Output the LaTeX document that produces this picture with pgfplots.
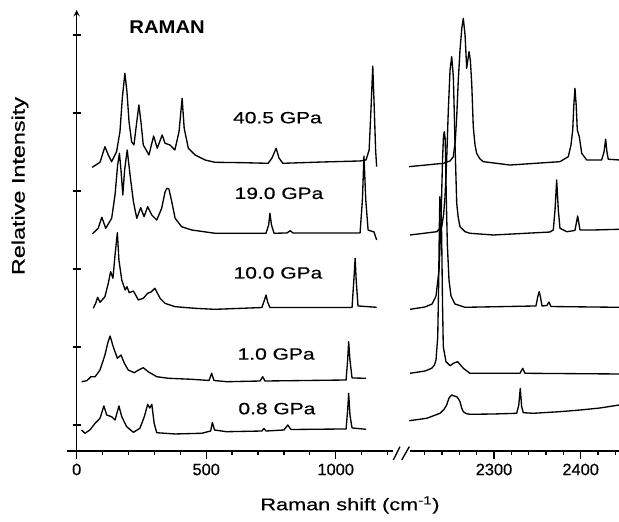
\documentclass[border=0pt]{standalone}
\usepackage{fontspec}
\setmainfont{Liberation Sans}
\newfontfamily\widefont[FakeStretch=1.29, FakeBold=0.5]{Liberation Sans}
\newfontfamily\ramanfont[FakeStretch=1.1]{Liberation Sans}
\newfontfamily\tickfont[FakeBold=0.4]{Liberation Sans}
\usepackage{pgfplots}
\pgfplotsset{compat=1.18}

\pgfplotsset{
  spec/.style={black, line width=1pt, line join=round, no markers},
  panel/.style={
    scale only axis, height=330.75pt,
    ymin=-0.3333, ymax=5.3205,
    axis x line=bottom, axis line style={-, line width=1.1pt},
    tick align=outside, major tick length=6pt, minor tick length=3pt,
    tick style={black, line width=1pt},
    xticklabel style={font=\tickfont\fontsize{12.3}{14}\selectfont},
    /pgf/number format/assume math mode=true,
    /pgf/number format/set thousands separator={},
    clip=false, anchor=south west,
  },
}
\tikzset{plabel/.style={font=\widefont\fontsize{12.2}{14}\selectfont}}

\begin{document}
\begin{tikzpicture}
\useasboundingbox (0,0) rectangle (464.25pt,391.5pt);

% low-frequency panel
\begin{axis}[panel, at={(57.525pt,53.25pt)}, width=237.2pt,
  xmin=0, xmax=1221,
  axis y line=left,
  ytick={0,1,2,3,4,5}, yticklabels={,,,,,},
  xtick={0,500,1000}, minor xtick={100,200,...,1200}]

% 40.5 GPa
\addplot[spec] coordinates {
(60,3.304) (90,3.368) (109,3.568) (122,3.462) (135,3.376) (154,3.504)
(167,3.760) (176,4.188) (186,4.509) (194,4.273) (202,3.889) (212,3.632)
(221,3.590) (232,3.889) (240,4.103) (248,3.889) (257,3.590) (279,3.462)
(297,3.705) (311,3.548) (330,3.718) (341,3.612) (360,3.590) (379,3.526)
(395,3.760) (407,4.188) (415,3.804) (431,3.548) (457,3.462) (495,3.398)
(534,3.368) (643,3.363) (739,3.355) (754,3.423) (770,3.548) (781,3.423)
(796,3.355) (950,3.372) (1094,3.385) (1117,3.398) (1129,3.526) (1136,4.038)
(1143,4.603) (1149,4.038) (1154,3.526) (1158,3.312)
};
% 19.0 GPa
\addplot[spec] coordinates {
(60,2.449) (83,2.522) (97,2.663) (112,2.522) (135,2.650) (148,2.949)
(158,3.333) (165,3.483) (171,3.269) (178,2.949) (185,3.269) (195,3.526)
(206,3.205) (219,2.863) (232,2.650) (247,2.786) (260,2.671) (274,2.799)
(290,2.692) (309,2.628) (328,2.778) (341,2.987) (348,3.035) (356,3.026)
(367,2.863) (380,2.650) (405,2.542) (444,2.500) (534,2.458) (731,2.458)
(741,2.564) (746,2.714) (752,2.564) (762,2.458) (812,2.462) (824,2.491)
(835,2.462) (1094,2.462) (1103,2.885) (1109,3.449) (1116,2.885) (1125,2.500)
(1148,2.474) (1158,2.372)
};
% 10.0 GPa
\addplot[spec] coordinates {
(64,1.496) (73,1.560) (81,1.637) (90,1.573) (109,1.645) (122,1.817)
(131,1.965) (140,1.881) (148,2.180) (157,2.465) (163,2.115) (174,1.859)
(187,1.731) (194,1.773) (203,1.696) (219,1.718) (238,1.603) (257,1.624)
(274,1.689) (287,1.705) (302,1.753) (322,1.624) (341,1.560) (380,1.517)
(457,1.496) (534,1.483) (715,1.506) (725,1.603) (731,1.667) (737,1.577)
(746,1.506) (1063,1.506) (1070,1.859) (1075,2.137) (1079,1.859) (1086,1.526)
(1158,1.509)
};
% 1.0 GPa
\addplot[spec] coordinates {
(19,0.555) (39,0.568) (55,0.619) (71,0.619) (90,0.705) (109,0.897)
(121,1.064) (129,1.141) (141,1.004) (157,0.855) (171,0.897) (184,0.791)
(199,0.705) (222,0.671) (244,0.714) (257,0.735) (276,0.683) (309,0.619)
(354,0.599) (444,0.586) (511,0.571) (521,0.663) (530,0.571) (579,0.555)
(708,0.564) (718,0.619) (727,0.564) (1040,0.577) (1046,0.833) (1050,1.068)
(1055,0.833) (1063,0.603) (1117,0.599)
};
% 0.8 GPa
\addplot[spec] coordinates {
(19,-0.064) (32,-0.106) (51,-0.064) (71,0.022) (90,0.086) (105,0.244)
(116,0.128) (135,0.106) (148,0.064) (163,0.244) (174,0.106) (193,-0.022)
(219,-0.094) (244,-0.042) (261,0.106) (274,0.265) (282,0.218) (290,0.265)
(299,0.022) (309,-0.099) (380,-0.115) (483,-0.106) (517,-0.077) (524,0.032)
(532,-0.064) (579,-0.086) (715,-0.077) (723,-0.045) (731,-0.077) (800,-0.064)
(815,0.000) (827,-0.058) (901,-0.055) (1040,-0.051) (1046,0.192) (1050,0.406)
(1055,0.128) (1063,-0.038) (1117,-0.055)
};

\node[font=\ramanfont\bfseries\fontsize{13.8}{16}\selectfont] at (axis cs:349,5.10) {RAMAN};
\node[plabel] at (axis cs:775,3.94) {40.5 GPa};
\node[plabel] at (axis cs:781,2.97) {19.0 GPa};
\node[plabel] at (axis cs:777,1.95) {10.0 GPa};
\node[plabel] at (axis cs:770,0.91) {1.0 GPa};
\node[plabel] at (axis cs:773,0.21) {0.8 GPa};
\end{axis}

% high-frequency panel
\begin{axis}[panel, at={(307.5pt,53.25pt)}, width=156.75pt,
  xmin=2203.1, xmax=2444.2,
  axis y line=none, ytick=\empty,
  xtick={2300,2400}, minor xtick={2220,2240,...,2440}]

% 40.5 GPa
\addplot[spec] coordinates {
(2202.0,3.312) (2241.5,3.355) (2249.3,3.385) (2253.1,3.440) (2255.4,3.654)
(2257.0,3.953) (2258.8,4.423) (2260.8,4.808) (2262.9,5.090) (2264.6,5.214)
(2266.6,5.000) (2268.5,4.573) (2269.8,4.679) (2271.2,4.786) (2272.7,4.679)
(2274.3,4.381) (2276.1,3.824) (2278.1,3.590) (2280.0,3.483) (2283.9,3.410)
(2287.7,3.376) (2318.5,3.333) (2376.1,3.376) (2385.7,3.440) (2388.8,3.590)
(2390.8,3.782) (2392.1,4.103) (2393.4,4.317) (2394.8,4.103) (2396.1,3.782)
(2398.4,3.696) (2401.2,3.483) (2406.9,3.398) (2424.2,3.398) (2426.9,3.500)
(2428.8,3.663) (2430.3,3.500) (2431.8,3.407) (2444.2,3.398)
};
% 19.0 GPa
\addplot[spec] coordinates {
(2203.1,2.436) (2233.9,2.478) (2239.7,2.542) (2241.8,2.692) (2243.5,2.927)
(2245.4,3.398) (2247.3,4.038) (2249.3,4.551) (2251.2,4.722) (2253.1,4.465)
(2254.1,4.038) (2255.0,3.612) (2257.0,2.842) (2258.8,2.654) (2260.8,2.542)
(2266.6,2.478) (2272.3,2.458) (2299.2,2.436) (2364.6,2.474) (2368.4,2.500)
(2370.4,2.756) (2372.3,3.141) (2374.2,2.756) (2376.1,2.522) (2383.9,2.478)
(2393.4,2.494) (2396.5,2.680) (2399.2,2.500) (2414.2,2.500) (2444.2,2.509)
};
% 10.0 GPa
\addplot[spec] coordinates {
(2203.1,1.483) (2220.4,1.513) (2228.5,1.551) (2233.1,1.654) (2236.6,1.987)
(2238.9,2.628) (2240.6,3.398) (2241.8,3.718) (2242.7,3.760) (2243.8,3.654)
(2245.0,2.885) (2246.2,2.308) (2248.1,1.859) (2250.4,1.654) (2255.0,1.551)
(2266.6,1.509) (2348.4,1.526) (2350.7,1.654) (2352.2,1.709) (2353.6,1.641)
(2355.4,1.526) (2361.1,1.532) (2363.4,1.577) (2365.7,1.519) (2444.2,1.509)
};
% 1.0 GPa
\addplot[spec] coordinates {
(2203.1,0.663) (2220.4,0.692) (2228.1,0.727) (2231.3,0.769) (2233.1,0.833)
(2235.1,1.132) (2236.1,1.773) (2236.9,2.500) (2237.5,2.927) (2238.3,2.821)
(2238.9,2.885) (2239.7,2.372) (2240.6,1.560) (2241.5,1.004) (2244.6,0.812)
(2249.3,0.760) (2253.9,0.795) (2258.1,0.812) (2261.4,0.769) (2264.6,0.727)
(2272.3,0.663) (2330.0,0.663) (2333.1,0.727) (2335.8,0.663) (2444.2,0.654)
};
% 0.8 GPa
\addplot[spec] coordinates {
(2202.3,0.055) (2222.4,0.086) (2237.7,0.150) (2242.3,0.199) (2245.4,0.256)
(2248.1,0.346) (2251.2,0.385) (2253.9,0.372) (2257.0,0.363) (2259.1,0.333)
(2260.8,0.299) (2262.7,0.218) (2264.6,0.171) (2267.7,0.147) (2272.3,0.137)
(2299.2,0.141) (2326.2,0.150) (2328.6,0.256) (2330.3,0.471) (2331.9,0.235)
(2333.8,0.158) (2345.3,0.150) (2376.1,0.171) (2399.2,0.192) (2422.3,0.218)
(2444.2,0.256)
};
\end{axis}

% x axis line running past the y axis, and the break mark
\draw[line width=1.1pt] (50.25pt,53.25pt) -- (57.525pt,53.25pt);
\draw[line width=1pt] (295pt,46.5pt) -- (300pt,56.5pt);
\draw[line width=1pt] (301.3pt,46.5pt) -- (307pt,56.5pt);

\node[rotate=90, font=\widefont\fontsize{13.6}{16}\selectfont] at (15pt,252pt) {Relative Intensity};
\node[font=\widefont\fontsize{12.6}{15}\selectfont] at (262.5pt,12.75pt) {Raman shift (cm\textsuperscript{-1})};
\end{tikzpicture}
\end{document}
